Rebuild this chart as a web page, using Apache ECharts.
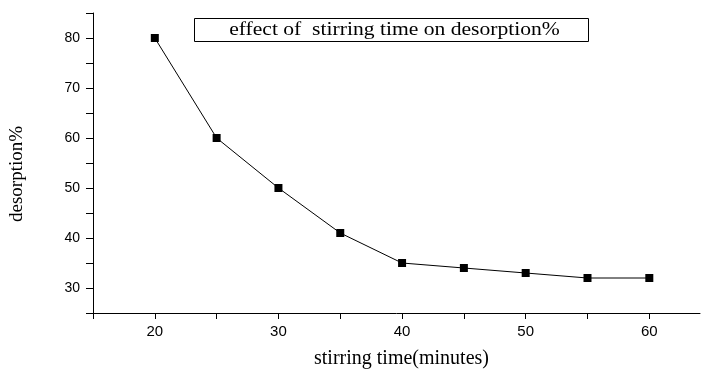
<!DOCTYPE html>
<html>
<head>
<meta charset="utf-8">
<script src="https://cdn.jsdelivr.net/npm/echarts@6/dist/echarts.min.js"></script>
<style>
  html, body { margin: 0; padding: 0; background: #fff; }
  #chart { width: 701px; height: 374px; }
</style>
</head>
<body>
<div id="chart"></div>
<script>
// stirring time (minutes) vs desorption %
const stirTime = [20, 25, 30, 35, 40, 45, 50, 55, 60];
const desorption = [80, 60, 50, 41, 35, 34, 33, 32, 32];
const xLabels = [20, 30, 40, 50, 60];
const xTicks = [15, 20, 25, 30, 35, 40, 45, 50, 55, 60];
const yLabels = [30, 40, 50, 60, 70, 80];
const yTicks = [25, 30, 35, 40, 45, 50, 55, 60, 65, 70, 75, 80, 85];

const serif = "'Liberation Serif', 'DejaVu Serif', serif";
const sans = "'Liberation Sans', Arial, sans-serif";

const chart = echarts.init(document.getElementById("chart"));

chart.setOption({
  animation: false,
  backgroundColor: "#fff",
  grid: { left: 92, right: 1, top: 13, bottom: 53 },
  xAxis: {
    type: "value",
    min: 15,
    max: 64.1,
    name: "stirring time(minutes)",
    nameLocation: "middle",
    nameGap: 36,
    nameTextStyle: { fontFamily: serif, fontSize: 20, color: "#000", padding: [0, 0, 0, 10] },
    axisLine: { show: true, onZero: false, lineStyle: { color: "#000", width: 1 } },
    axisTick: { show: true, inside: false, length: 6, customValues: xTicks, lineStyle: { color: "#000" } },
    axisLabel: { customValues: xLabels, fontFamily: sans, fontSize: 15, color: "#000", margin: 11 },
    splitLine: { show: false }
  },
  yAxis: {
    type: "value",
    min: 25,
    max: 85,
    name: "desorption%",
    nameLocation: "middle",
    nameGap: 66,
    nameTextStyle: { fontFamily: serif, fontSize: 19, color: "#000", padding: [0, 22, 0, 0] },
    axisLine: { show: true, onZero: false, lineStyle: { color: "#000", width: 1 } },
    axisTick: { show: true, inside: false, length: 7, customValues: yTicks, lineStyle: { color: "#000" } },
    axisLabel: { customValues: yLabels, fontFamily: sans, fontSize: 14, color: "#000", margin: 13 },
    splitLine: { show: false }
  },
  graphic: [
    {
      type: "group",
      left: 194,
      top: 18,
      children: [
        {
          type: "rect",
          shape: { x: 0, y: 0, width: 394, height: 23 },
          style: { fill: "#fff", stroke: "#000", lineWidth: 1 }
        },
        {
          type: "text",
          x: 200,
          y: 12,
          scaleX: 1.2,
          style: {
            text: "effect of  stirring time on desorption%",
            font: "18px " + serif,
            fill: "#000",
            align: "center",
            verticalAlign: "middle"
          }
        }
      ]
    }
  ],
  series: [
    {
      type: "line",
      data: stirTime.map((t, i) => [t, desorption[i]]),
      symbol: "rect",
      symbolSize: 8,
      showAllSymbol: true,
      lineStyle: { color: "#000", width: 1 },
      itemStyle: { color: "#000" }
    }
  ]
});
</script>
</body>
</html>
